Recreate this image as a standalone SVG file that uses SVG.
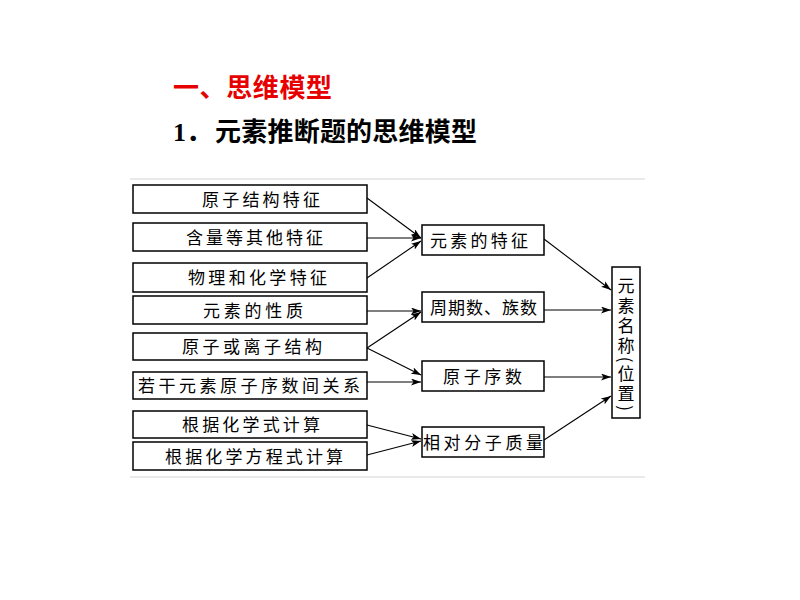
<svg xmlns="http://www.w3.org/2000/svg" width="800" height="600" viewBox="0 0 800 600">
<style>
.box{fill:#fff;stroke:#000;stroke-width:1.5}
.t{font-family:"Noto Sans CJK SC","Noto Sans",sans-serif;font-size:17px;fill:#000}
.c{stroke:#000;stroke-width:1.1;fill:none;marker-end:url(#ah)}
.frame{stroke:#e2e2e2;stroke-width:1.5}
</style>
<defs>
<marker id="ah" markerUnits="userSpaceOnUse" markerWidth="10" markerHeight="7" refX="10" refY="3.5" orient="auto">
<path d="M0,0 L10,3.5 L0,7 L2.5,3.5 z" fill="#000"/>
</marker>
</defs>
<rect width="800" height="600" fill="#fff"/>
<g id="title">
<text x="173" y="96.5" font-family="Noto Sans CJK SC, sans-serif" font-size="26" font-weight="bold" fill="#e60000" textLength="159" lengthAdjust="spacing">一、思维模型</text>
<text x="173" y="141" font-family="Liberation Serif, Noto Sans CJK SC, serif" font-size="26" font-weight="bold" fill="#000">1．</text>
<text x="215" y="141" font-family="Noto Sans CJK SC, sans-serif" font-size="26" font-weight="bold" fill="#000" textLength="262" lengthAdjust="spacing">元素推断题的思维模型</text>
</g>
<g id="frame">
<line class="frame" x1="130" y1="179" x2="645" y2="179"/>
<line class="frame" x1="130" y1="477" x2="645" y2="477"/>
</g>
<g id="connectors">
<line class="c" x1="367" y1="198" x2="421" y2="238"/>
<line class="c" x1="367" y1="238" x2="421" y2="238"/>
<line class="c" x1="367" y1="278" x2="421" y2="241"/>
<line class="c" x1="544" y1="239" x2="611" y2="290"/>
<line class="c" x1="367" y1="311" x2="421" y2="311"/>
<line class="c" x1="367" y1="348" x2="421" y2="312"/>
<line class="c" x1="367" y1="348" x2="421" y2="375"/>
<line class="c" x1="367" y1="382" x2="421" y2="382"/>
<line class="c" x1="544" y1="310" x2="611" y2="310"/>
<line class="c" x1="544" y1="377" x2="611" y2="377"/>
<line class="c" x1="367" y1="425" x2="421" y2="439"/>
<line class="c" x1="367" y1="455" x2="421" y2="441"/>
<line class="c" x1="544" y1="440" x2="611" y2="396"/>
</g>
<g id="n1"><rect class="box" x="133" y="185" width="234" height="28"/><text class="t" x="202" y="205.5" textLength="118" lengthAdjust="spacing">原子结构特征</text></g>
<g id="n2"><rect class="box" x="133" y="223" width="234" height="28"/><text class="t" x="186" y="243.5" textLength="137" lengthAdjust="spacing">含量等其他特征</text></g>
<g id="n3"><rect class="box" x="133" y="263" width="234" height="29"/><text class="t" x="188" y="284" textLength="139" lengthAdjust="spacing">物理和化学特征</text></g>
<g id="n4"><rect class="box" x="133" y="296" width="234" height="28"/><text class="t" x="203" y="316.5" textLength="100" lengthAdjust="spacing">元素的性质</text></g>
<g id="n5"><rect class="box" x="133" y="333" width="234" height="27"/><text class="t" x="182" y="353" textLength="140" lengthAdjust="spacing">原子或离子结构</text></g>
<g id="n6"><rect class="box" x="133" y="372" width="234" height="27"/><text class="t" x="138" y="392" textLength="222" lengthAdjust="spacing">若干元素原子序数间关系</text></g>
<g id="n7"><rect class="box" x="133" y="411" width="234" height="27"/><text class="t" x="182" y="431" textLength="138" lengthAdjust="spacing">根据化学式计算</text></g>
<g id="n8"><rect class="box" x="133" y="442" width="234" height="28"/><text class="t" x="165" y="462.5" textLength="178" lengthAdjust="spacing">根据化学方程式计算</text></g>
<g id="m1"><rect class="box" x="422" y="225" width="122" height="30"/><text class="t" x="430" y="246.5" textLength="98" lengthAdjust="spacing">元素的特征</text></g>
<g id="m2"><rect class="box" x="422" y="292" width="122" height="30"/><text class="t" x="430" y="313.5" textLength="107" lengthAdjust="spacing">周期数、族数</text></g>
<g id="m3"><rect class="box" x="422" y="361" width="122" height="30"/><text class="t" x="443" y="382.5" textLength="79" lengthAdjust="spacing">原子序数</text></g>
<g id="m4"><rect class="box" x="422" y="427" width="122" height="30"/><text class="t" x="423" y="448.5" textLength="120" lengthAdjust="spacing">相对分子质量</text></g>
<g id="r1"><rect class="box" x="612" y="267" width="28" height="151"/>
<text class="t" x="626" y="277" style="writing-mode:vertical-rl" writing-mode="tb" textLength="134" lengthAdjust="spacing">元素名称(位置)</text>
</g>
</svg>
